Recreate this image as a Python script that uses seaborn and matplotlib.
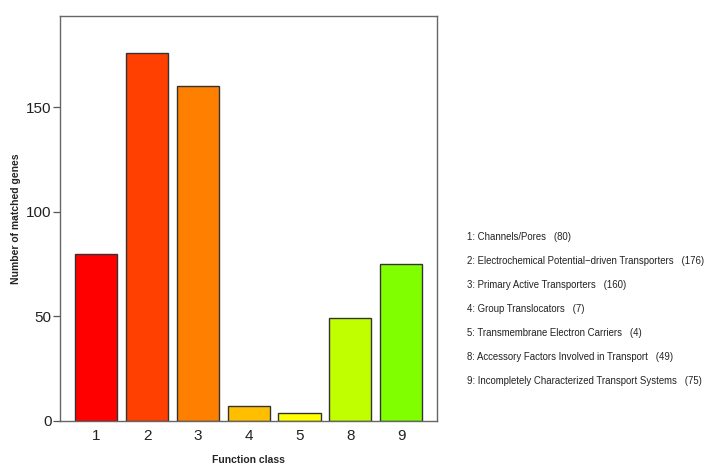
import matplotlib
matplotlib.use("Agg")
import matplotlib.pyplot as plt
import seaborn as sns
import pandas as pd

# --- data ---
classes = ["1", "2", "3", "4", "5", "8", "9"]
counts = [80, 176, 160, 7, 4, 49, 75]
class_names = [
    "Channels/Pores",
    "Electrochemical Potential\u2212driven Transporters",
    "Primary Active Transporters",
    "Group Translocators",
    "Transmembrane Electron Carriers",
    "Accessory Factors Involved in Transport",
    "Incompletely Characterized Transport Systems",
]
colors = ["#FF0000", "#FF4000", "#FF8000", "#FFBF00", "#FFFF00", "#BFFF00", "#80FF00"]
yticks = [0, 50, 100, 150]

sns.set_theme(style="white")
plt.rcParams["font.family"] = ["Liberation Sans", "DejaVu Sans"]

df = pd.DataFrame({"cls": classes, "n": counts})

fig = plt.figure(figsize=(7.14, 4.74), dpi=100)
ax = fig.add_axes([60 / 714, 1 - 421 / 474, (437 - 60) / 714, (421 - 16) / 474])

sns.barplot(data=df, x="cls", y="n", hue="cls", palette=colors, legend=False,
            width=0.83, edgecolor="#333333", linewidth=1.0, saturation=1, ax=ax)

ax.set_xlim(-0.712, 6.704)
ax.set_ylim(0, 193.6)
ax.set_yticks(yticks)
ax.set_yticklabels([str(v) for v in yticks], fontsize=11, color="#222222")
ax.tick_params(axis="y", left=True, length=5, width=0.9, color="#555555", pad=1)
ax.tick_params(axis="x", bottom=False, length=0, pad=6, labelsize=11, labelcolor="#222222")

for sp in ax.spines.values():
    sp.set_visible(True)
    sp.set_color("#666666")
    sp.set_linewidth(1.0)

ax.set_xlabel("Function class", fontsize=7.5, fontweight="bold")
ax.set_ylabel("Number of matched genes", fontsize=7.5, fontweight="bold")
ax.xaxis.set_label_coords(0.5, -0.083)
ax.yaxis.set_label_coords(-0.103, 0.5)

# text legend on the right
y0 = 236.7
for i, (c, name, n) in enumerate(zip(classes, class_names, counts)):
    fig.text(467 / 714, 1 - (y0 + i * 24.1) / 474, f"{c}: {name}   ({n})",
             fontsize=6.9, va="center", ha="left", color="#222222")

fig.savefig("out.png", dpi=100)
